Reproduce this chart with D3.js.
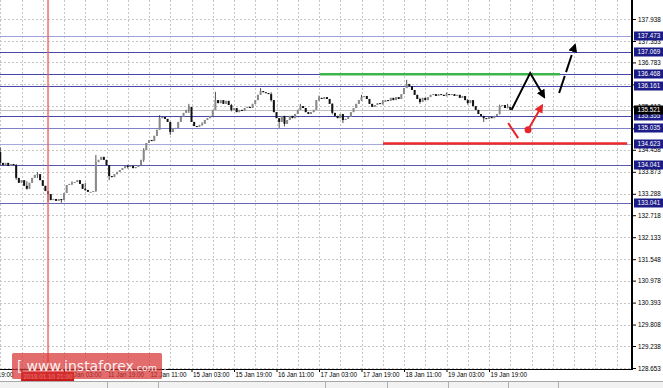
<!DOCTYPE html>
<html>
<head>
<meta charset="utf-8">
<script src="https://cdn.jsdelivr.net/npm/d3@7"></script>
<style>
body{margin:0;background:#fff}
svg{display:block;font-family:"Liberation Sans",Arial,sans-serif}
</style>
</head>
<body>
<script>
// hourly bars, bar 0 = 9 Jan 19:00, first drawn bar is 8
const firstBar = 8
const firstOpen = 134.40
const closes = [
134.11,134.05,134.11,134.03,134.08,134.05,133.71,133.58,133.65,133.50,
133.42,133.58,133.71,133.79,133.81,133.65,133.50,133.36,133.28,133.12,
133.15,133.10,133.15,133.12,133.31,133.52,133.55,133.58,133.60,133.65,
133.55,133.42,133.39,133.34,133.34,133.36,134.13,134.19,134.27,134.19,
134.05,133.76,133.73,133.81,133.87,133.92,133.97,134.03,134.00,134.03,
133.97,134.00,134.05,134.19,134.45,134.64,134.72,134.69,134.83,134.99,
135.30,135.33,135.28,135.20,134.93,135.01,135.04,135.20,135.33,135.44,
135.52,135.60,135.20,135.09,135.07,135.12,135.15,135.25,135.30,135.36,
135.52,135.78,135.70,135.78,135.68,135.76,135.65,135.52,135.57,135.46,
135.52,135.49,135.57,135.60,135.57,135.68,135.78,135.92,136.02,135.99,
135.97,135.94,135.78,135.46,135.30,135.20,135.36,135.15,135.25,135.36,
135.30,135.41,135.52,135.62,135.57,135.46,135.41,135.46,135.52,135.78,
135.84,135.81,135.86,135.81,135.68,135.44,135.36,135.30,135.41,135.25,
135.28,135.33,135.46,135.57,135.68,135.78,135.86,135.89,135.81,135.68,
135.60,135.65,135.70,135.68,135.73,135.78,135.76,135.84,135.78,135.86,
135.81,135.94,136.10,136.21,136.15,136.05,135.92,135.81,135.73,135.84,
135.78,135.86,135.92,135.94,135.89,135.94,135.92,135.89,135.94,135.92,
135.94,135.89,135.92,135.84,135.89,135.78,135.70,135.78,135.62,135.52,
135.41,135.36,135.30,135.28,135.33,135.30,135.36,135.41,135.62,135.65,
135.57,135.60,135.52
]
// wick extremes: [bar, high, low]
const wicks = [
  [8, 134.53, 134.05], [14, 134.08, 133.66], [18, 133.62, 133.40], [22, 133.86, 133.71],
  [26, 133.36, 133.07], [31, 133.15, 133.05], [35, 133.62, 133.52], [40, 133.58, 133.36],
  [44, 134.32, 133.34], [49, 134.05, 133.65], [56, 134.06, 133.96], [62, 134.50, 134.14],
  [68, 135.38, 134.99], [72, 135.20, 134.85], [79, 135.68, 135.44], [84, 135.19, 135.10],
  [89, 136.00, 135.52], [95, 135.68, 135.48], [106, 136.10, 135.92], [110, 135.99, 135.74],
  [113, 135.30, 135.04], [115, 135.36, 135.08], [121, 135.68, 135.52], [128, 135.90, 135.76],
  [133, 135.70, 135.40], [137, 135.41, 135.17], [144, 135.92, 135.76], [152, 135.78, 135.66],
  [161, 136.32, 136.10], [166, 135.84, 135.68], [176, 135.98, 135.88], [184, 135.81, 135.66],
  [190, 135.36, 135.20], [196, 135.66, 135.40], [199, 135.68, 135.56]
]

const timeLabels = ["9 Jan 19:00","10 Jan 11:00","11 Jan 03:00","11 Jan 19:00","12 Jan 11:00",
  "15 Jan 03:00","15 Jan 19:00","16 Jan 11:00","17 Jan 03:00","17 Jan 19:00","18 Jan 11:00",
  "19 Jan 03:00","19 Jan 19:00"]
const priceTicks = [137.938,137.353,136.783,136.198,135.612,135.028,134.458,133.873,133.288,
  132.718,132.133,131.548,130.978,130.393,129.808,129.238,128.653]
const levels = [137.473,137.069,136.468,136.161,135.355,135.035,134.623,134.041,133.041]
const bid = 135.521
const crossBar = 26
const crossLabel = "2018.01.10 21:00"
const resistance = {price: 136.468, from: 128.4, to: 218.7}
const support = {price: 134.623, from: 152.1, to: 244}
// forecast arrows in [bar, price]
const blackPath = [[200.5, 135.52], [207.5, 136.50], [212.8, 135.86]]
const blackDashed = [[218.4, 135.97], [224.4, 137.25]]
const redTick = [[199.2, 135.17], [203, 134.77]]
const redArrow = [[206.7, 134.99], [212, 135.64]]

const levelColor = {137.473:"#a0a0d8",137.069:"#4848a8",136.468:"#4848a8",136.161:"#4848a8",
  135.355:"#4848a8",135.035:"#8080c8",134.623:"#a8a8dc",134.041:"#5858b0",133.041:"#6868b8"}

const W = 663, H = 388, plotR = 632, plotB = 369
const svg = d3.select("body").append("svg").attr("width", W).attr("height", H)
const x = d3.scaleLinear().domain([0, 192]).range([-21, 489])
const y = d3.scaleLinear().domain([128.653, 137.938]).range([368, 19])

svg.append("defs").append("clipPath").attr("id", "plot")
  .append("rect").attr("width", plotR).attr("height", plotB)
const plot = svg.append("g").attr("clip-path", "url(#plot)")

// grid
const vGrid = d3.range(8, 250, 8)
plot.append("g").selectAll("line").data(vGrid).enter().append("line")
  .attr("x1", d => Math.round(x(d)) + .5).attr("x2", d => Math.round(x(d)) + .5)
  .attr("y1", 0).attr("y2", plotB)
  .attr("stroke", "#c6c6c6").attr("stroke-dasharray", "2,2")
plot.append("g").selectAll("line").data(priceTicks).enter().append("line")
  .attr("x1", 0).attr("x2", plotR)
  .attr("y1", d => Math.round(y(d)) + .5).attr("y2", d => Math.round(y(d)) + .5)
  .attr("stroke", "#c6c6c6").attr("stroke-dasharray", "2,2")

// levels
plot.append("line").attr("x1", 0).attr("x2", plotR)
  .attr("y1", Math.round(y(bid)) + .5).attr("y2", Math.round(y(bid)) + .5)
  .attr("stroke", "#c0c0c0")
plot.append("g").selectAll("line").data(levels).enter().append("line")
  .attr("x1", 0).attr("x2", plotR)
  .attr("y1", d => Math.round(y(d)) + .5).attr("y2", d => Math.round(y(d)) + .5)
  .attr("stroke", d => levelColor[d]).attr("stroke-width", 1.2)

// candles
const bars = closes.map((c, i) => {
  const open = i == 0 ? firstOpen : closes[i - 1]
  const b = firstBar + i
  const w = wicks.find(d => d[0] == b)
  return {b, open, close: c,
    high: w ? Math.max(w[1], open, c) : Math.max(open, c),
    low: w ? Math.min(w[2], open, c) : Math.min(open, c)}
})
const cg = plot.append("g")
cg.selectAll("line").data(bars).enter().append("line")
  .attr("x1", d => x(d.b)).attr("x2", d => x(d.b))
  .attr("y1", d => y(d.high)).attr("y2", d => y(d.low))
  .attr("stroke", "#222").attr("stroke-width", .8)
cg.selectAll("rect").data(bars).enter().append("rect")
  .attr("x", d => x(d.b) - 1)
  .attr("width", 2)
  .attr("y", d => y(Math.max(d.open, d.close)))
  .attr("height", d => Math.max(1, Math.abs(y(d.open) - y(d.close))))
  .attr("fill", d => d.close >= d.open ? "#8a8a8a" : "#111")

// crosshair
plot.append("line").attr("x1", x(crossBar)).attr("x2", x(crossBar))
  .attr("y1", 0).attr("y2", plotB)
  .attr("stroke", "#f06060").attr("stroke-opacity", .7).attr("stroke-width", 2)

// green / red levels
plot.append("line").attr("x1", x(resistance.from)).attr("x2", x(resistance.to))
  .attr("y1", y(resistance.price)).attr("y2", y(resistance.price))
  .attr("stroke", "#3cb64a").attr("stroke-width", 2.5)
plot.append("line").attr("x1", x(support.from)).attr("x2", x(support.to))
  .attr("y1", y(support.price)).attr("y2", y(support.price))
  .attr("stroke", "#ee2a2a").attr("stroke-width", 2.5)

// arrows
const defs = svg.select("defs")
const marker = (id, color) => defs.append("marker").attr("id", id)
  .attr("viewBox", "0 0 10 10").attr("refX", 8).attr("refY", 5)
  .attr("markerWidth", 9).attr("markerHeight", 9).attr("markerUnits", "userSpaceOnUse")
  .attr("orient", "auto").append("path").attr("d", "M0,0L10,5L0,10Z").attr("fill", color)
marker("hb", "#000"); marker("hr", "#e8262a")
const line = d3.line().x(d => x(d[0])).y(d => y(d[1]))
plot.append("path").attr("d", line(blackPath)).attr("fill", "none")
  .attr("stroke", "#000").attr("stroke-width", 2).attr("marker-end", "url(#hb)")
plot.append("path").attr("d", line(blackDashed)).attr("fill", "none")
  .attr("stroke", "#000").attr("stroke-width", 2).attr("stroke-dasharray", "18,4")
  .attr("marker-end", "url(#hb)")
plot.append("path").attr("d", line(redTick)).attr("stroke", "#e8262a").attr("stroke-width", 2)
plot.append("path").attr("d", line(redArrow)).attr("fill", "none")
  .attr("stroke", "#e8262a").attr("stroke-width", 2).attr("marker-end", "url(#hr)")
plot.append("circle").attr("cx", x(redArrow[0][0])).attr("cy", y(redArrow[0][1]))
  .attr("r", 3.5).attr("fill", "#e8262a")

// borders
svg.append("line").attr("x1", 0).attr("x2", plotR + 1).attr("y1", plotB + .5).attr("y2", plotB + .5)
  .attr("stroke", "#000")
svg.append("line").attr("x1", plotR).attr("x2", plotR).attr("y1", 0).attr("y2", plotB + 1)
  .attr("stroke", "#000").attr("stroke-width", 2)

// price axis
const ay = svg.append("g").attr("transform", `translate(${plotR + 1},0)`)
  .call(d3.axisRight(y).tickValues(priceTicks).tickSize(3).tickFormat(d3.format(".3f")))
ay.selectAll("text").attr("font-size", 6.3).attr("fill", "#000").attr("x", 5)
ay.selectAll("line").attr("stroke", "#000")
const boxes = svg.append("g").selectAll("g").data(levels.concat([bid])).enter().append("g")
  .attr("transform", d => `translate(${plotR + 2},${Math.round(y(d))})`)
boxes.append("rect").attr("x", 0).attr("y", -4.5).attr("width", 29).attr("height", 9)
  .attr("fill", d => d == bid ? "#000" : "#1c1c88")
boxes.append("text").text(d => d3.format(".3f")(d)).attr("x", 3.5).attr("y", 2.3)
  .attr("font-size", 6.3).attr("fill", "#fff")

// time axis
const ax = svg.append("g").attr("transform", `translate(0,${plotB})`)
  .call(d3.axisBottom(x).tickValues(timeLabels.map((_, i) => i * 16))
    .tickFormat((_, i) => timeLabels[i]).tickSize(3))
ax.selectAll("text").attr("font-size", 6.3).attr("fill", "#000")
  .attr("text-anchor", "start").attr("x", 1).attr("y", 4)
ax.selectAll("line").attr("stroke", "#000")
svg.selectAll(".domain").remove()

// crosshair date label
svg.append("rect").attr("x", x(crossBar) - 27).attr("y", 372).attr("width", 53).attr("height", 9)
  .attr("fill", "#c81818")
svg.append("text").text(crossLabel).attr("x", x(crossBar)).attr("y", 379)
  .attr("text-anchor", "middle").attr("font-size", 6.3).attr("fill", "#fff")

// bottom tab strip
svg.append("rect").attr("x", 0).attr("y", 381).attr("width", W).attr("height", 7).attr("fill", "#f2f2f2")
svg.append("line").attr("x1", 0).attr("x2", W).attr("y1", 381.5).attr("y2", 381.5).attr("stroke", "#a8a8a8")
svg.append("g").selectAll("line").data([107, 158, 325, 387, 448, 508, 558]).enter().append("line")
  .attr("x1", d => d + .5).attr("x2", d => d + .5).attr("y1", 382).attr("y2", 388).attr("stroke", "#b0b0b0")

// watermark
const wm = svg.append("g")
wm.append("rect").attr("x", 12).attr("y", 353).attr("width", 150).attr("height", 26).attr("rx", 1.5)
  .attr("fill", "#d83434").attr("fill-opacity", .72)
const wt = wm.append("text").attr("x", 17).attr("y", 370.5).attr("fill", "#fff").attr("fill-opacity", .92)
  .attr("font-family", "'DejaVu Sans',sans-serif")
wt.append("tspan").text("[ ").attr("font-size", 13.5)
wt.append("tspan").text("www.instaforex").attr("font-size", 14)
wt.append("tspan").text(".com").attr("font-size", 9.5)
wt.append("tspan").text(" ]").attr("font-size", 13.5)
</script>
</body>
</html>
